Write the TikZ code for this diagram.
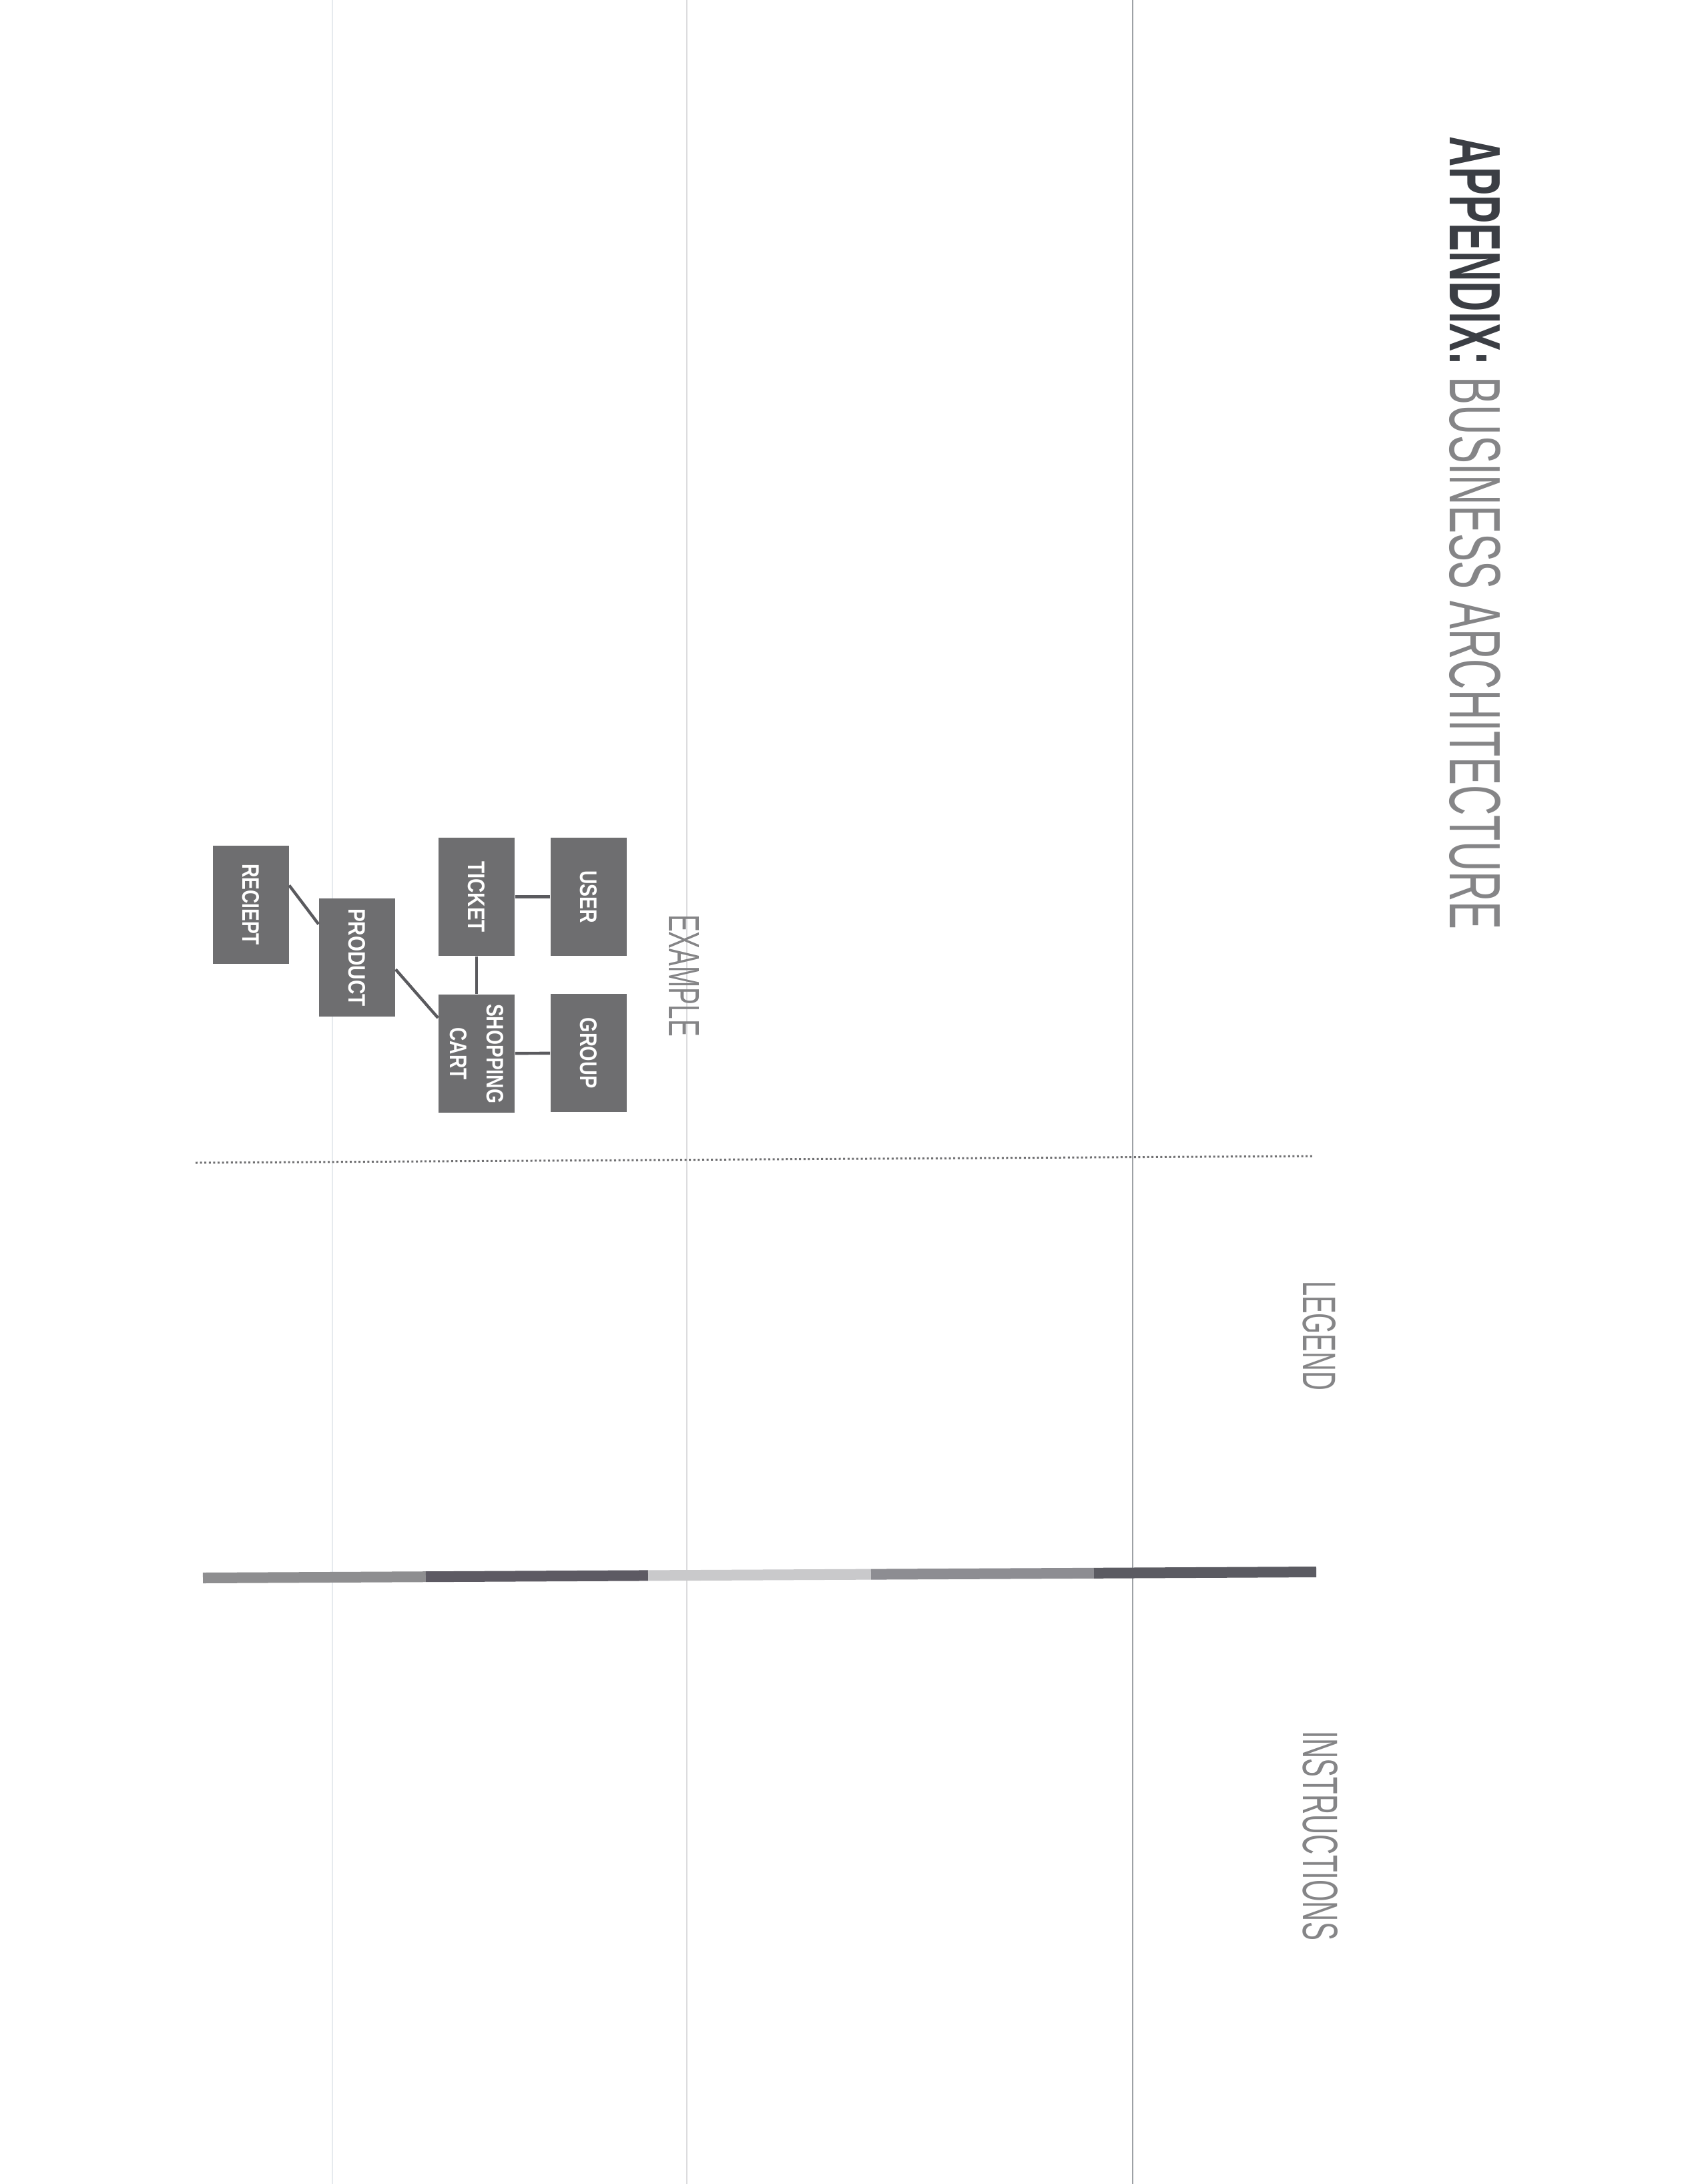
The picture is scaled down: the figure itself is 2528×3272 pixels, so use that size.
\documentclass[tikz,border=0pt]{standalone}
\usepackage{fontspec}
\setmainfont{Liberation Sans}
\usetikzlibrary{calc}
\definecolor{boxgray}{HTML}{6E6E70}
\definecolor{linkgray}{HTML}{5A5A5E}
\definecolor{titledark}{HTML}{3B3E44}
\definecolor{labelgray}{HTML}{858587}
\definecolor{foldA}{HTML}{E6EAEE}
\definecolor{foldB}{HTML}{DCDCDE}
\definecolor{foldC}{HTML}{9DA1A5}
\definecolor{dotgray}{HTML}{707072}
\definecolor{barA}{HTML}{8E8E90}
\definecolor{barB}{HTML}{5D5A63}
\definecolor{barC}{HTML}{C9C9CB}
\definecolor{barD}{HTML}{8D8D92}
\definecolor{barE}{HTML}{5B5B62}
\begin{document}
\begin{tikzpicture}[x=0.25pt,y=-0.25pt,
  ebox/.style={rotate=-90, fill=boxgray, text=white, inner sep=0pt,
    minimum width=44.25pt, minimum height=28.5pt,
    font=\bfseries\fontsize{10}{13.75}\selectfont, align=center},
  link/.style={draw=linkgray, line width=1.1pt},
  rtxt/.style={rotate=-90, inner sep=0pt, text=labelgray},
  fold/.style={line width=0.7pt},
  dotline/.style={draw=dotgray, line width=0.75pt, dash pattern=on 0.75pt off 0.9pt},
  barseg/.style={line width=4pt, line cap=butt}]
\fill[white] (0,0) rectangle (2528,3272);
\useasboundingbox (0,0) rectangle (2528,3272);
% fold lines of the sheet
\draw[fold, draw=foldA] (498,0) -- (498,3272);
\draw[fold, draw=foldB, line width=0.5pt] (1029,0) -- (1029,3272);
\draw[fold, draw=foldC] (1697,0) -- (1697,3272);
% title and headings
\node[rotate=-90, inner sep=0pt] (title) at (2210,799)
  {\resizebox{297pt}{19pt}{\textcolor{titledark}{\bfseries APPENDIX:} \textcolor{labelgray}{BUSINESS ARCHITECTURE}}};
\node[rtxt] (legend) at (1976.5,2001) {\resizebox{41pt}{12.25pt}{LEGEND}};
\node[rtxt] (instructions) at (1978,2750) {\resizebox{78.5pt}{13pt}{INSTRUCTIONS}};
\node[rtxt] (example) at (1024.5,1461.5) {\resizebox{45.75pt}{11.25pt}{EXAMPLE}};
% separators
\draw[dotline] (293,1742) -- (1966,1732);
\draw[barseg, draw=barA] (304,2364) -- (638,2362.2);
\draw[barseg, draw=barB] (638,2362.2) -- (971,2360.4);
\draw[barseg, draw=barC] (971,2360.4) -- (1305,2358.6);
\draw[barseg, draw=barD] (1305,2358.6) -- (1639,2356.8);
\draw[barseg, draw=barE] (1639,2356.8) -- (1972,2355);
% example diagram
\node[ebox] (reciept) at (375.5,1355) {\resizebox{30.5pt}{6.25pt}{RECIEPT}};
\node[ebox] (product) at (535,1434.5) {\resizebox{36.75pt}{6.25pt}{PRODUCT}};
\node[ebox] (ticket) at (714,1343.5) {\resizebox{26.75pt}{6.25pt}{TICKET}};
\node[ebox] (user) at (882,1343.5) {\resizebox{19.75pt}{6.25pt}{USER}};
\node[ebox] (sc) at (714,1578.5) {\resizebox{37.25pt}{6.25pt}{SHOPPING}\\\resizebox{19.5pt}{6.25pt}{CART}};
\node[ebox] (group) at (882,1577.5) {\resizebox{26.5pt}{6.25pt}{GROUP}};
\draw[link] (ticket) -- (user);
\draw[link] (sc) -- (group);
\draw[link] (ticket) -- (sc);
\draw[link] ($(reciept.north west)!0.34!(reciept.north east)$) -- ($(product.south west)!0.22!(product.south east)$);
\draw[link] ($(product.north west)!0.60!(product.north east)$) -- ($(sc.south west)!0.20!(sc.south east)$);
\end{tikzpicture}
\end{document}
